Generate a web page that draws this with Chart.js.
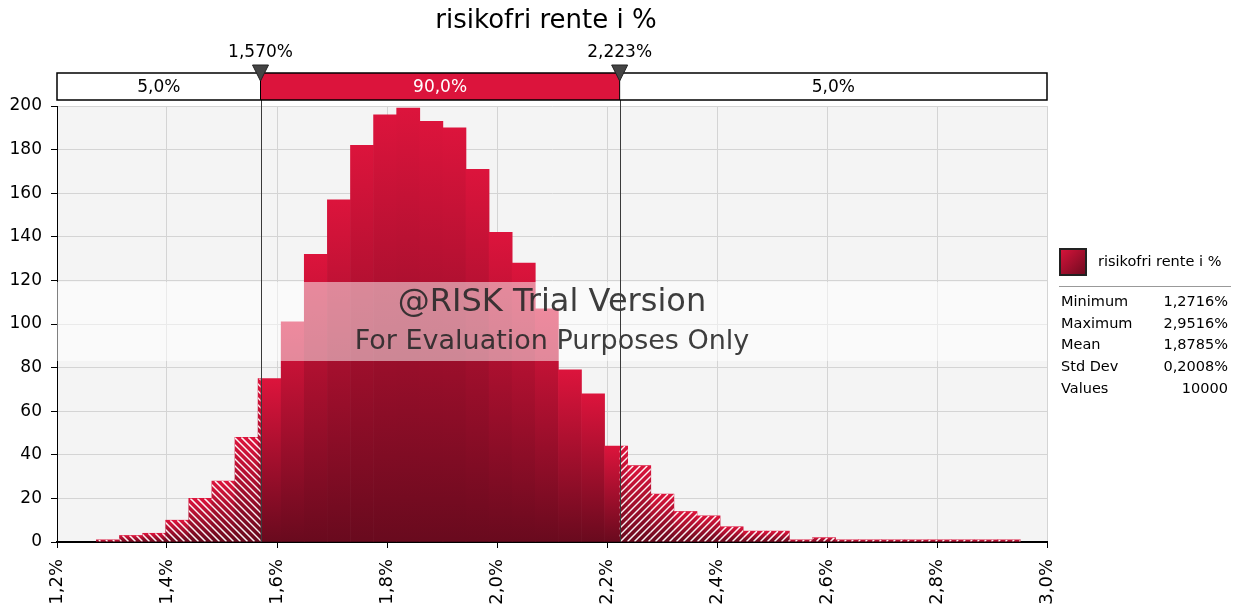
<!DOCTYPE html>
<html>
<head>
<meta charset="utf-8">
<script src="https://cdn.jsdelivr.net/npm/chart.js@4.4.1/dist/chart.umd.min.js"></script>
<style>
  html, body { margin: 0; padding: 0; background: #fff; }
  #wrap { width: 1240px; height: 613px; }
</style>
</head>
<body>
<div id="wrap"><canvas id="histChart"></canvas></div>
<script>
// histogram bins (x in %), 40 bins from the minimum
const binStart = 1.2716;
const binWidth = 0.042;
const binValues = [1, 3, 4, 10, 20, 28, 48, 75, 101, 132, 157, 182, 196, 199, 193, 190, 171, 142, 128, 107,
                   79, 68, 44, 35, 22, 14, 12, 7, 5, 5, 1, 2, 1, 1, 1, 1, 1, 1, 1, 1];
const xTicks = [1.2, 1.4, 1.6, 1.8, 2.0, 2.2, 2.4, 2.6, 2.8, 3.0];
const yTicks = [0, 20, 40, 60, 80, 100, 120, 140, 160, 180, 200];

const chartTitle = 'risikofri rente i %';
const pctLeft = 1.570;
const pctRight = 2.223;
const pctLabels = ['1,570%', '2,223%'];
const bandLabels = ['5,0%', '90,0%', '5,0%'];

const statNames = ['Minimum', 'Maximum', 'Mean', 'Std Dev', 'Values'];
const statValues = ['1,2716%', '2,9516%', '1,8785%', '0,2008%', '10000'];

const FONT = '"DejaVu Sans", Verdana, sans-serif';
const CRIMSON = '#dc143c';
const DARK = '#690a1e';

const points = binValues.map((v, i) => ({ x: binStart + (i + 0.5) * binWidth, y: v }));

function barGradient(c) {
  const chart = c.chart;
  const ys = chart.scales.y;
  if (!ys || !c.raw) return CRIMSON;
  const top = ys.getPixelForValue(c.raw.y);
  const bottom = ys.getPixelForValue(0);
  if (!isFinite(top) || !isFinite(bottom) || bottom - top < 0.5) return CRIMSON;
  const g = chart.ctx.createLinearGradient(0, top, 0, bottom);
  g.addColorStop(0, CRIMSON);
  g.addColorStop(1, DARK);
  return g;
}

// gray plot background
const plotBg = {
  id: 'plotBg',
  beforeDraw(chart) {
    const { ctx, chartArea: a } = chart;
    ctx.save();
    ctx.fillStyle = '#f4f4f4';
    ctx.fillRect(a.left, a.top, a.right - a.left, a.bottom - a.top);
    ctx.restore();
  }
};

// white diagonal hatching on the 5% tails
const hatch = {
  id: 'hatch',
  afterDatasetsDraw(chart) {
    const { ctx, scales } = chart;
    const xl = scales.x.getPixelForValue(pctLeft);
    const xr = scales.x.getPixelForValue(pctRight);
    const step = 7;
    ctx.save();
    ctx.strokeStyle = 'rgba(255,255,255,0.95)';
    ctx.lineWidth = 1.5;
    chart.getDatasetMeta(0).data.forEach(bar => {
      const { x, y, base, width } = bar.getProps(['x', 'y', 'base', 'width'], true);
      const l = x - width / 2, r = x + width / 2;
      [[l, Math.min(r, xl), -1], [Math.max(l, xr), r, 1]].forEach(([a, b, dir]) => {
        if (b <= a) return;
        ctx.save();
        ctx.beginPath();
        ctx.rect(a, y, b - a, base - y);
        ctx.clip();
        ctx.beginPath();
        if (dir < 0) {
          // "\" lines: x - y = c
          const c0 = Math.floor((a - base) / step) * step;
          for (let c = c0; c <= b - y; c += step) {
            ctx.moveTo(c + y, y);
            ctx.lineTo(c + base, base);
          }
        } else {
          // "/" lines: x + y = c
          const c0 = Math.floor((a + y) / step) * step;
          for (let c = c0; c <= b + base; c += step) {
            ctx.moveTo(c - base, base);
            ctx.lineTo(c - y, y);
          }
        }
        ctx.stroke();
        ctx.restore();
      });
    });
    ctx.restore();
  }
};

// title, percentile band, markers, watermark, stats legend
const overlay = {
  id: 'overlay',
  afterDraw(chart) {
    const { ctx, chartArea: a, scales } = chart;
    const xl = scales.x.getPixelForValue(pctLeft);
    const xr = scales.x.getPixelForValue(pctRight);
    ctx.save();

    // watermark band
    ctx.fillStyle = 'rgba(255,255,255,0.5)';
    ctx.fillRect(a.left, 282, a.right - a.left, 79);
    ctx.fillStyle = 'rgba(40,40,40,0.9)';
    ctx.textAlign = 'center';
    ctx.textBaseline = 'middle';
    ctx.font = '32px ' + FONT;
    ctx.fillText('@RISK Trial Version', 552, 303);
    ctx.font = '27px ' + FONT;
    ctx.fillText('For Evaluation Purposes Only', 552, 342);

    // percentile lines
    ctx.strokeStyle = '#3a3a3a';
    ctx.lineWidth = 1;
    [xl, xr].forEach(px => {
      ctx.beginPath();
      ctx.moveTo(Math.round(px) + 0.5, 100);
      ctx.lineTo(Math.round(px) + 0.5, a.bottom);
      ctx.stroke();
    });

    // title
    ctx.fillStyle = '#000';
    ctx.font = '26px ' + FONT;
    ctx.fillText(chartTitle, 546, 21);

    // band
    const bt = 73, bh = 27;
    ctx.fillStyle = '#fff';
    ctx.fillRect(a.left, bt, a.right - a.left, bh);
    ctx.fillStyle = CRIMSON;
    ctx.fillRect(xl, bt, xr - xl, bh);
    ctx.strokeStyle = '#000';
    ctx.lineWidth = 1.5;
    ctx.strokeRect(a.left, bt, a.right - a.left, bh);
    ctx.lineWidth = 1;
    [xl, xr].forEach(px => {
      ctx.beginPath();
      ctx.moveTo(px, bt);
      ctx.lineTo(px, bt + bh);
      ctx.stroke();
    });
    ctx.font = '17px ' + FONT;
    ctx.fillStyle = '#000';
    ctx.fillText(bandLabels[0], (a.left + xl) / 2, bt + bh / 2 + 1);
    ctx.fillStyle = '#fff';
    ctx.fillText(bandLabels[1], (xl + xr) / 2, bt + bh / 2 + 1);
    ctx.fillStyle = '#000';
    ctx.fillText(bandLabels[2], (xr + a.right) / 2, bt + bh / 2 + 1);

    // markers
    [xl, xr].forEach((px, i) => {
      ctx.fillStyle = '#000';
      ctx.fillText(pctLabels[i], px, 53);
      ctx.beginPath();
      ctx.moveTo(px - 8, 65);
      ctx.lineTo(px + 8, 65);
      ctx.lineTo(px, 81);
      ctx.closePath();
      ctx.fillStyle = '#444';
      ctx.fill();
      ctx.strokeStyle = '#222';
      ctx.stroke();
    });

    // legend swatch
    const sg = ctx.createLinearGradient(1059, 248, 1087, 276);
    sg.addColorStop(0, CRIMSON);
    sg.addColorStop(1, DARK);
    ctx.fillStyle = sg;
    ctx.fillRect(1059, 248, 28, 28);
    ctx.strokeStyle = '#222';
    ctx.lineWidth = 2;
    ctx.strokeRect(1060, 249, 26, 26);
    ctx.fillStyle = '#000';
    ctx.textAlign = 'left';
    ctx.font = '14.5px ' + FONT;
    ctx.fillText(chartTitle, 1098, 262);
    ctx.strokeStyle = '#999';
    ctx.lineWidth = 1;
    ctx.beginPath();
    ctx.moveTo(1059, 286.5);
    ctx.lineTo(1231, 286.5);
    ctx.stroke();

    statNames.forEach((name, i) => {
      const yy = 302 + i * 21.8;
      ctx.textAlign = 'left';
      ctx.fillText(name, 1061, yy);
      ctx.textAlign = 'right';
      ctx.fillText(statValues[i], 1228, yy);
    });

    ctx.restore();
  }
};

new Chart(document.getElementById('histChart'), {
  type: 'bar',
  data: {
    datasets: [{
      label: chartTitle,
      data: points,
      backgroundColor: barGradient,
      borderWidth: 0,
      barPercentage: 1.0,
      categoryPercentage: 1.0
    }]
  },
  options: {
    responsive: true,
    maintainAspectRatio: false,
    animation: false,
    layout: { padding: { top: 106, right: 193, left: 0, bottom: 0 } },
    plugins: {
      legend: { display: false },
      title: { display: false },
      tooltip: { enabled: false }
    },
    scales: {
      x: {
        type: 'linear',
        offset: false,
        min: xTicks[0],
        max: xTicks[xTicks.length - 1],
        afterBuildTicks: (scale) => { scale.ticks = xTicks.map(v => ({ value: v })); },
        afterFit: (scale) => { scale.height = 71; },
        grid: { color: '#d4d4d4', tickColor: '#000', tickLength: 6, offset: false },
        border: { color: '#000', width: 2 },
        ticks: {
          autoSkip: false,
          minRotation: 90,
          maxRotation: 90,
          padding: 11,
          color: '#000',
          font: { family: FONT, size: 18 },
          callback: (v) => Number(v).toFixed(1).replace('.', ',') + '%'
        }
      },
      y: {
        min: yTicks[0],
        max: yTicks[yTicks.length - 1],
        afterBuildTicks: (scale) => { scale.ticks = yTicks.map(v => ({ value: v })); },
        afterFit: (scale) => { scale.width = 57; },
        grid: { color: '#d4d4d4', tickColor: '#000', tickLength: 6 },
        border: { color: '#000', width: 1 },
        ticks: {
          padding: 9,
          color: '#000',
          font: { family: FONT, size: 17 }
        }
      }
    }
  },
  plugins: [plotBg, hatch, overlay]
});
</script>
</body>
</html>
